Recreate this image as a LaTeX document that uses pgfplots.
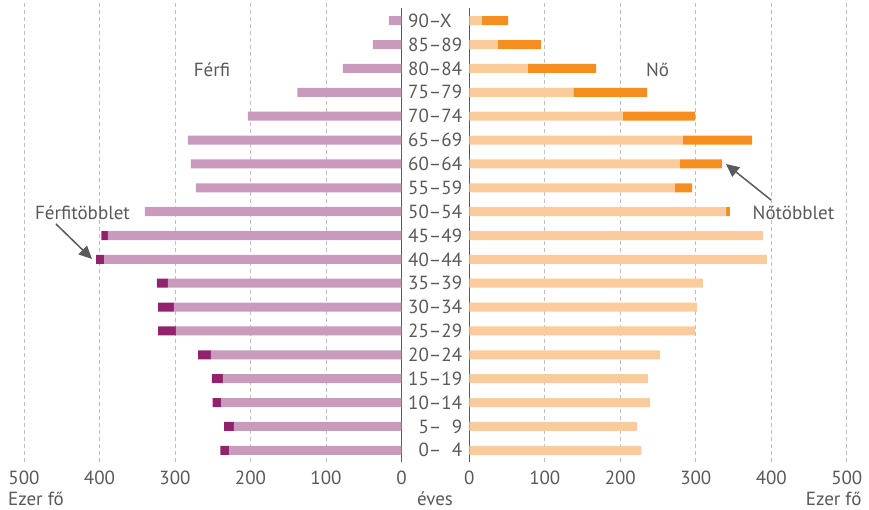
\documentclass[border=0pt]{standalone}
\usepackage{fontspec}
\setmainfont{PT Sans}
\usepackage{pgfplots}
\pgfplotsset{compat=1.18}
\usetikzlibrary{arrows.meta}
\definecolor{txt}{RGB}{88,89,91}
\definecolor{axc}{RGB}{90,90,92}
\definecolor{gridc}{RGB}{190,190,190}
\definecolor{mlight}{RGB}{201,154,187}
\definecolor{mdark}{RGB}{147,34,110}
\definecolor{wlight}{RGB}{251,203,155}
\definecolor{wdark}{RGB}{246,142,31}
\pgfplotsset{pyr/.style={
  scale only axis, width=377.5pt, height=462pt,
  xmin=0, xmax=500, ymin=-0.49, ymax=18.867,
  xbar stacked, bar width=9pt,
  axis line style={draw=none}, tick style={draw=none},
  xtick={100,200,300,400,500}, extra x ticks={0}, extra x tick style={grid=none},
  xmajorgrids, grid style={dash pattern=on 4pt off 3pt, line width=0.9pt, color=gridc},
  ytick=\empty,
  tick label style={font=\fontsize{19}{22}\selectfont, text=txt},
  /pgf/number format/assume math mode=true,
  xticklabel style={anchor=base, inner sep=0pt, yshift=-22.3pt},
  clip=false,
}}
\begin{document}
\begin{tikzpicture}
\useasboundingbox (0pt,0pt) rectangle (869pt,509pt);
% Men
\begin{axis}[pyr, x dir=reverse, at={(24pt,47pt)}, anchor=south west]
\addplot[fill=mlight, draw=none] coordinates {
(228,0) (222,1) (239,2) (236.5,3) (252.5,4) (299,5) (301.5,6) (309.5,7) (394,8) (389,9)
(340,10) (272.3,11) (279,12) (283,13) (203.5,14) (138,15) (77.6,16) (38,17) (16.7,18)};
\addplot[fill=mdark, draw=none] coordinates {
(12,0) (13,1) (11,2) (14.5,3) (17,4) (23.5,5) (21,6) (14.5,7) (10.5,8) (8.5,9)
(0,10) (0,11) (0,12) (0,13) (0,14) (0,15) (0,16) (0,17) (0,18)};
\draw[line width=1.3pt, color=axc] (axis cs:0,-0.49) -- (axis cs:0,18.53);
\end{axis}
% Women
\begin{axis}[pyr, at={(469.3pt,47pt)}, anchor=south west,
  ytick={0,...,18},
  yticklabels={{\phantom{0}0–\phantom{0}4},{\phantom{0}5–\phantom{0}9},10–14,15–19,20–24,25–29,30–34,35–39,40–44,45–49,50–54,55–59,60–64,65–69,70–74,75–79,80–84,85–89,90–X},
  yticklabel style={anchor=west, inner sep=0pt, xshift=-61.3pt}]
\addplot[fill=wlight, draw=none] coordinates {
(228,0) (222,1) (239,2) (236.5,3) (252.5,4) (299,5) (301.5,6) (309.5,7) (394,8) (389,9)
(340,10) (272.3,11) (279,12) (283,13) (203.5,14) (138,15) (77.6,16) (38,17) (16.7,18)};
\addplot[fill=wdark, draw=none] coordinates {
(0,0) (0,1) (0,2) (0,3) (0,4) (0,5) (0,6) (0,7) (0,8) (0,9)
(5,10) (22.7,11) (56,12) (91.5,13) (95.5,14) (97.5,15) (90.4,16) (57,17) (34.6,18)};
\draw[line width=1.3pt, color=axc] (axis cs:0,-0.49) -- (axis cs:0,18.53);
\end{axis}
\begin{scope}[x=1pt, y=1pt, every node/.style={font=\fontsize{19}{22}\selectfont, text=txt}]
\node at (212,439) {Férfi};
\node at (657.5,439) {Nő};
\node at (82.5,296) {Férfitöbblet};
\node at (793.5,296) {Nőtöbblet};
\node[anchor=base west, inner sep=0pt] at (8,4) {Ezer fő};
\node[anchor=base east, inner sep=0pt] at (861.7,4) {Ezer fő};
\node[anchor=base, inner sep=0pt] at (435,4) {éves};
\draw[line width=1.5pt, color=axc, -{Triangle[length=13pt,width=12pt]}] (56,285) -- (92,250);
\draw[line width=1.5pt, color=axc, -{Triangle[length=13pt,width=12pt]}] (771,309) -- (726,345);
\end{scope}
\end{tikzpicture}
\end{document}
